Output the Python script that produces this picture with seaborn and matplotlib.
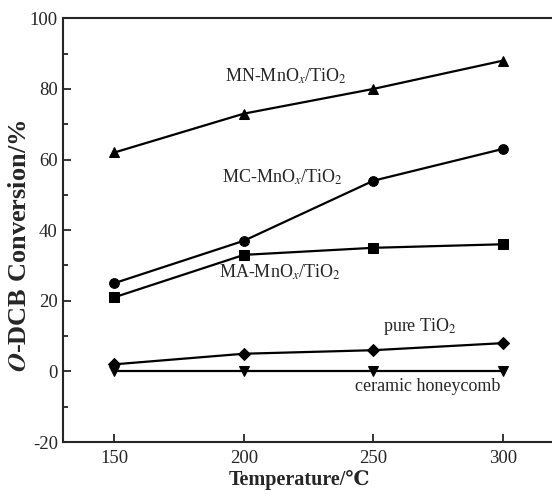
import numpy as np
import pandas as pd
import matplotlib
matplotlib.use("Agg")
import matplotlib.pyplot as plt
import seaborn as sns
from matplotlib.ticker import MultipleLocator

# Data
temperature = [150, 200, 250, 300]
mn_mnox = [62, 73, 80, 88]
mc_mnox = [25, 37, 54, 63]
ma_mnox = [21, 33, 35, 36]
pure_tio2 = [2, 5, 6, 8]
ceramic = [0, 0, 0, 0]

series_names = ["MN", "MC", "MA", "pure", "ceramic"]
series_values = [mn_mnox, mc_mnox, ma_mnox, pure_tio2, ceramic]
series_markers = ["^", "o", "s", "D", "v"]
marker_sizes = [7.5, 7, 6.5, 6.5, 7.5]

df = pd.DataFrame({
    "Temperature": temperature * len(series_names),
    "Conversion": np.concatenate(series_values),
    "Sample": np.repeat(series_names, len(temperature)),
})

sns.set_style("ticks")
plt.rcParams["font.family"] = ["Liberation Serif", "DejaVu Serif"]
plt.rcParams["mathtext.fontset"] = "stix"
plt.rcParams["axes.unicode_minus"] = False

fig = plt.figure(figsize=(5.52, 4.98), dpi=100)
ax = fig.add_axes([62.7 / 552, 1 - 442 / 498, (554.6 - 62.7) / 552, (442 - 18.3) / 498])

for name, mk, ms in zip(series_names, series_markers, marker_sizes):
    sub = df[df["Sample"] == name]
    sns.lineplot(data=sub, x="Temperature", y="Conversion", ax=ax, color="black",
                 marker=mk, markersize=ms, markeredgecolor="black", linewidth=1.6,
                 legend=False)

ax.set_xlim(130, 320)
ax.set_ylim(-20, 100)
ax.set_xticks(temperature)
ax.yaxis.set_major_locator(MultipleLocator(20))
ax.yaxis.set_minor_locator(MultipleLocator(10))
ax.tick_params(axis="both", which="major", direction="in", length=6, width=1.3,
               labelsize=13.5, top=False, right=False)
ax.tick_params(axis="x", which="major", pad=6)
ax.tick_params(axis="y", which="minor", direction="in", length=3.5, width=1.3, right=False)
for s in ax.spines.values():
    s.set_linewidth(1.5)

ax.set_xlabel("Temperature/℃", fontsize=14.5, fontweight="bold")
ax.xaxis.set_label_coords(0.481, -0.066)
ax.xaxis.label.set_va("top")
ax.set_ylabel(r"$\boldsymbol{O}$-DCB Conversion/%", fontsize=19, fontweight="bold")
ax.yaxis.set_label_coords(-0.064, 0.462)

# Series labels
ax.text(192.5, 83.5, r"MN-MnO$_x$/TiO$_2$", fontsize=13, va="center", ha="left")
ax.text(191.4, 55, r"MC-MnO$_x$/TiO$_2$", fontsize=13, va="center", ha="left")
ax.text(190.3, 28, r"MA-MnO$_x$/TiO$_2$", fontsize=13, va="center", ha="left")
ax.text(253.6, 12.6, r"pure TiO$_2$", fontsize=13, va="center", ha="left")
ax.text(242.8, -4.4, "ceramic honeycomb", fontsize=13, va="center", ha="left")

fig.savefig("out.png", dpi=100)
